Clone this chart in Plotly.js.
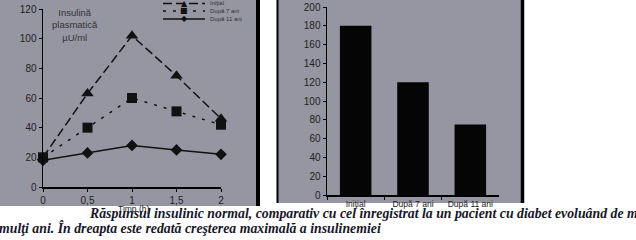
<!DOCTYPE html>
<html><head><meta charset="utf-8">
<script src="https://cdn.plot.ly/plotly-3.0.1.min.js"></script>
<style>
html,body{margin:0;padding:0;background:#fff}
</style>
</head><body>
<div id="chart" style="width:636px;height:240px"></div>
<script>
// ---- data ----
const timeH = [0, 0.5, 1, 1.5, 2];
const xTickLabels = ["0", "0,5", "1", "1,5", "2"];
const initial = [20, 63, 102, 75, 46];
const after7 = [20, 40, 60, 51, 42];
const after11 = [18, 23, 28, 25, 22];
const seriesNames = ["Iniţial", "După 7 ani", "După 11 ani"];
const barCategories = ["Iniţial", "După 7 ani", "După 11 ani"];
const barValues = [180, 120, 75];

const W = 636, H = 240;
const px = v => v / W;
const py = v => 1 - v / H;
const ink = '#111';
const tickFont = {family: 'Liberation Sans, Arial', size: 10, color: '#222'};

const traces = [
  {x: timeH, y: initial, name: seriesNames[0], mode: 'lines+markers', xaxis: 'x', yaxis: 'y',
   line: {color: ink, width: 1.5, dash: '9px,4px'}, marker: {symbol: 'triangle-up', size: 11, color: ink}, cliponaxis: false},
  {x: timeH, y: after7, name: seriesNames[1], mode: 'lines+markers', xaxis: 'x', yaxis: 'y',
   line: {color: ink, width: 1.5, dash: '3px,7px'}, marker: {symbol: 'square', size: 10, color: ink}, cliponaxis: false},
  {x: timeH, y: after11, name: seriesNames[2], mode: 'lines+markers', xaxis: 'x', yaxis: 'y',
   line: {color: ink, width: 1.5}, marker: {symbol: 'diamond', size: 9, color: ink}, cliponaxis: false},
  {x: barCategories, y: barValues, type: 'bar', xaxis: 'x2', yaxis: 'y2', width: 0.55,
   marker: {color: '#050505', line: {width: 0}}, showlegend: false}
];

const panelBg = 'rgb(150,150,162)';
const shapes = [
  {type: 'rect', xref: 'paper', yref: 'paper', x0: 0, x1: px(257), y0: py(206), y1: 1,
   fillcolor: panelBg, line: {width: 0}, layer: 'below'},
  {type: 'rect', xref: 'paper', yref: 'paper', x0: px(277), x1: px(522), y0: py(203), y1: 1,
   fillcolor: panelBg, line: {width: 0}, layer: 'below'},
  {type: 'line', xref: 'paper', yref: 'paper', x0: px(258), x1: px(258), y0: py(206), y1: 1, line: {color: '#000', width: 4}},
  {type: 'line', xref: 'paper', yref: 'paper', x0: px(277.5), x1: px(277.5), y0: py(203), y1: 1, line: {color: '#000', width: 2}},
  {type: 'line', xref: 'paper', yref: 'paper', x0: px(522.5), x1: px(522.5), y0: py(203), y1: 1, line: {color: '#000', width: 3.5}},
  {type: 'line', xref: 'paper', yref: 'paper', x0: px(163), x1: px(205), y0: py(3.5), y1: py(3.5), line: {color: ink, width: 1.5, dash: '9px,4px'}},
  {type: 'line', xref: 'paper', yref: 'paper', x0: px(163), x1: px(205), y0: py(11), y1: py(11), line: {color: ink, width: 1.5, dash: '3px,7px'}},
  {type: 'line', xref: 'paper', yref: 'paper', x0: px(163), x1: px(205), y0: py(19), y1: py(19), line: {color: ink, width: 1.5}}
];

const legendSyms = ['▲', '■', '◆'];
const annotations = [];
[3.5, 11, 19].forEach((yy, i) => {
  annotations.push({xref: 'paper', yref: 'paper', x: px(184), y: py(yy), text: legendSyms[i], showarrow: false,
    xanchor: 'center', yanchor: 'middle', font: {size: 8, color: ink, family: 'DejaVu Sans'}});
  annotations.push({xref: 'paper', yref: 'paper', x: px(208), y: py(yy), text: seriesNames[i], showarrow: false,
    xanchor: 'left', yanchor: 'middle', font: {size: 6, color: '#333', family: 'Liberation Sans, Arial'}});
});
annotations.push({xref: 'paper', yref: 'paper', x: px(75), y: py(25), text: 'Insulină<br>plasmatică<br>µU/ml', showarrow: false,
  xanchor: 'center', yanchor: 'middle', font: {size: 9.5, color: '#333', family: 'Liberation Sans, Arial'}});
annotations.push({xref: 'paper', yref: 'paper', x: px(133), y: py(202), text: 'Timp (h)', showarrow: false,
  xanchor: 'center', yanchor: 'top', font: {size: 8.5, color: '#222', family: 'Liberation Sans, Arial'}});
const capFont = {size: 13.8, color: '#161626', family: 'Liberation Serif, Times New Roman, serif'};
annotations.push({xref: 'paper', yref: 'paper', x: px(87), y: py(223), text: '<b><i>Răspunsul insulinic normal, comparativ cu cel înregistrat la un pacient cu diabet evoluând de mai</i></b>',
  showarrow: false, xanchor: 'left', yanchor: 'bottom', font: capFont});
annotations.push({xref: 'paper', yref: 'paper', x: px(-3), y: py(238), text: '<b><i>mulţi ani. În dreapta este redată creşterea maximală a insulinemiei</i></b>',
  showarrow: false, xanchor: 'left', yanchor: 'bottom', font: capFont});

const layout = {
  width: W, height: H, margin: {l: 0, r: 0, t: 0, b: 0},
  paper_bgcolor: '#ffffff', plot_bgcolor: 'rgba(0,0,0,0)', showlegend: false,
  xaxis: {domain: [px(43), px(221)], range: [0, 2], tickvals: timeH, ticktext: xTickLabels,
    showgrid: false, zeroline: false, showline: true, linecolor: '#000', linewidth: 1.5,
    ticks: 'outside', ticklen: 3, tickcolor: '#000', tickfont: tickFont, anchor: 'y', fixedrange: true},
  yaxis: {domain: [py(187), py(9)], range: [0, 120], tickvals: [0, 20, 40, 60, 80, 100, 120],
    showgrid: false, zeroline: false, showline: true, linecolor: '#000', linewidth: 1.5,
    ticks: 'outside', ticklen: 3, tickcolor: '#000', tickfont: tickFont, anchor: 'x'},
  xaxis2: {domain: [px(327), px(499)], range: [-0.5, 2.5], type: 'category', tickson: 'boundaries',
    showgrid: false, zeroline: false, showline: true, linecolor: '#000', linewidth: 1.5,
    ticks: 'outside', ticklen: 3, tickcolor: '#000', tickfont: {family: 'Liberation Sans, Arial', size: 8.5, color: '#222'}, anchor: 'y2'},
  yaxis2: {domain: [py(195), py(7)], range: [0, 200], tickvals: [0, 20, 40, 60, 80, 100, 120, 140, 160, 180, 200],
    showgrid: false, zeroline: false, showline: true, linecolor: '#000', linewidth: 1.5,
    ticks: 'outside', ticklen: 3, tickcolor: '#000', tickfont: tickFont, anchor: 'x2'},
  shapes: shapes, annotations: annotations
};
Plotly.newPlot('chart', traces, layout, {staticPlot: true, displayModeBar: false});
</script>
</body></html>
